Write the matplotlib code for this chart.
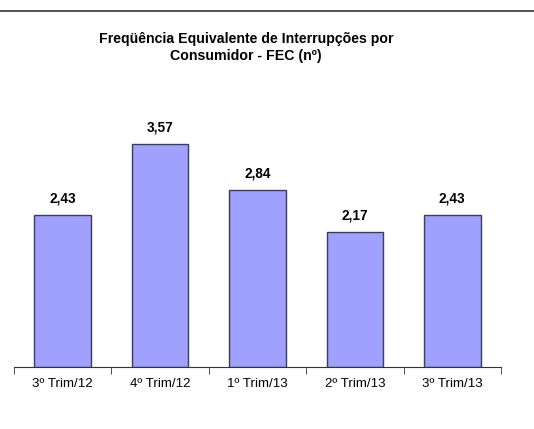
import matplotlib.pyplot as plt
from matplotlib.lines import Line2D
import numpy as np

# dados
trimestres = ['3º Trim/12', '4º Trim/12', '1º Trim/13', '2º Trim/13', '3º Trim/13']
fec = [2.43, 3.57, 2.84, 2.17, 2.43]
rotulos = ['2,43', '3,57', '2,84', '2,17', '2,43']

plt.rcParams['font.family'] = ['Liberation Sans', 'DejaVu Sans']

fig = plt.figure(figsize=(5.34, 4.29), dpi=100)
ax = fig.add_axes([0.0262, 0.1445, 0.912, 0.655])

x = np.arange(len(trimestres))
ax.bar(x, fec, width=0.58, color='#a0a0ff', edgecolor='#3c3c5a', linewidth=1.0)

for xi, v, r in zip(x, fec, rotulos):
    ax.text(xi, v + 0.15, r, ha='center', va='bottom', fontsize=9.8, fontweight='bold')

ax.set_xlim(-0.5, len(trimestres) - 0.5)
ax.set_ylim(0, 4.5)
ax.set_xticks(x)
ax.set_xticklabels(trimestres, fontsize=9.6)
ax.set_xticks(np.arange(-0.5, len(trimestres)), minor=True)
ax.tick_params(axis='x', which='major', length=0, pad=8)
ax.tick_params(axis='x', which='minor', length=5, color='#333333')
ax.set_yticks([])
for s in ['left', 'right', 'top']:
    ax.spines[s].set_visible(False)
ax.spines['bottom'].set_color('#333333')

fig.text(0.461, 0.889, 'Freqüência Equivalente de Interrupções por\nConsumidor - FEC (nº)',
         ha='center', va='center', fontsize=10.2, fontweight='bold', linespacing=1.25)

fig.add_artist(Line2D([0, 1], [1 - 11 / 429, 1 - 11 / 429], color='#333333', linewidth=1.2))

fig.savefig('out.png', dpi=100)
